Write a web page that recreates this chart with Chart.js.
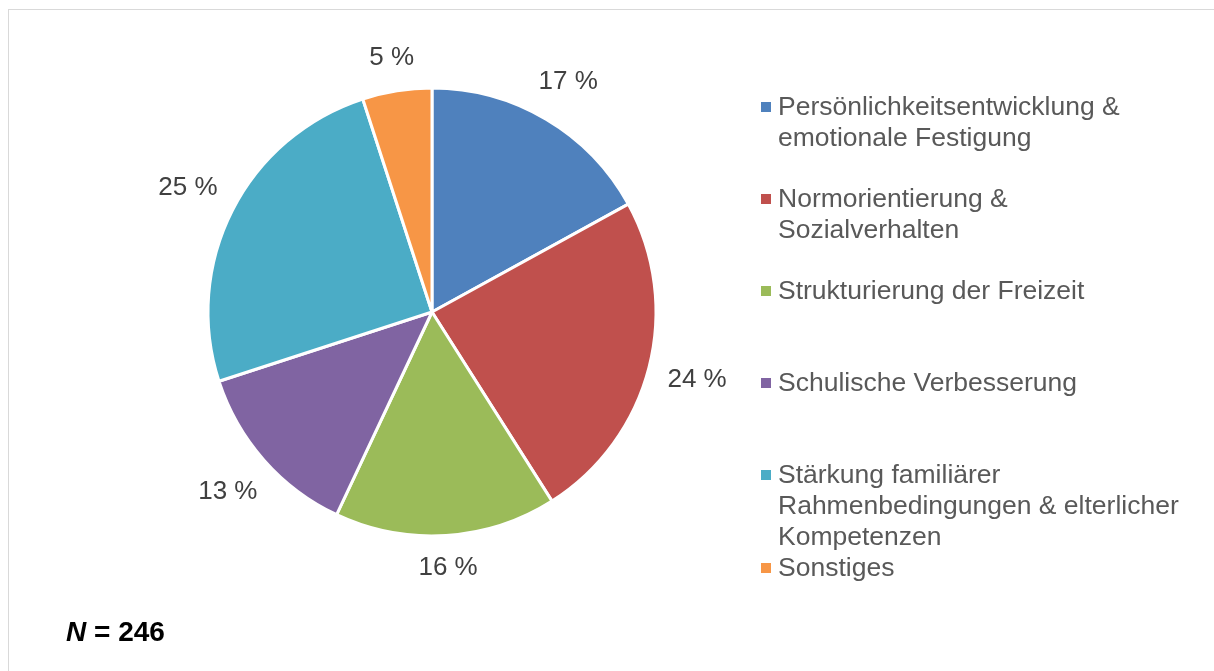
<!DOCTYPE html>
<html>
<head>
<meta charset="utf-8">
<script src="https://cdn.jsdelivr.net/npm/chart.js@4.4.1/dist/chart.umd.min.js"></script>
<style>
  html, body { margin: 0; padding: 0; background: #fff; overflow: hidden; }
  #frame { position: absolute; left: 8px; top: 9px; width: 1300px; height: 800px; border: 1px solid #d9d9d9; }
  #wrap { position: absolute; left: 0; top: 0; width: 1214px; height: 671px; }
</style>
</head>
<body>
<div id="frame"></div>
<div id="wrap"><canvas id="myChart" width="1214" height="671"></canvas></div>
<script>
// categories (split into lines like the legend of the original)
let categories = [
  ["Persönlichkeitsentwicklung &", "emotionale Festigung"],
  ["Normorientierung &", "Sozialverhalten"],
  ["Strukturierung der Freizeit"],
  ["Schulische Verbesserung"],
  ["Stärkung familiärer", "Rahmenbedingungen & elterlicher", "Kompetenzen"],
  ["Sonstiges"]
];
let shares = [17, 24, 16, 13, 25, 5];
let colors = ["#4F81BD", "#C0504D", "#9BBB59", "#8064A2", "#4BACC6", "#F79646"];
let sampleNote = ["N", " = 246"];

let FONT = "'Liberation Sans', Arial, sans-serif";

// percentage labels outside each slice
let outsideLabels = {
  id: "outsideLabels",
  afterDatasetsDraw(chart) {
    let ctx = chart.ctx;
    let meta = chart.getDatasetMeta(0);
    ctx.save();
    ctx.font = "26px " + FONT;
    ctx.fillStyle = "#404040";
    ctx.textAlign = "center";
    ctx.textBaseline = "middle";
    meta.data.forEach(function(el, i) {
      let p = el.getProps(["x", "y", "startAngle", "endAngle", "outerRadius"], true);
      let mid = (p.startAngle + p.endAngle) / 2;
      let txt = shares[i] + " %";
      let w = ctx.measureText(txt).width;
      let c = Math.cos(mid), s = Math.sin(mid);
      let d = p.outerRadius + 18 + Math.abs(c) * w / 2 + Math.abs(s) * 12;
      ctx.fillText(txt, p.x + c * d, p.y + s * d);
    });
    ctx.restore();
  }
};

// legend on the right, Excel style
let sideLegend = {
  id: "sideLegend",
  afterDraw(chart) {
    let ctx = chart.ctx;
    let x = 761, top = 107, lineH = 31, step = 92;
    ctx.save();
    ctx.font = "26.5px " + FONT;
    ctx.textBaseline = "middle";
    let y = top;
    chart.data.labels.forEach(function(lines, i) {
      ctx.fillStyle = chart.data.datasets[0].backgroundColor[i];
      ctx.fillRect(x, y - 5, 10, 10);
      ctx.fillStyle = "#595959";
      lines.forEach(function(line, j) {
        ctx.fillText(line, x + 17, y + 1 + j * lineH);
      });
      y += Math.max(step, lines.length * lineH);
    });

    // sample size note
    ctx.fillStyle = "#000";
    ctx.font = "italic bold 28px " + FONT;
    ctx.fillText(sampleNote[0], 66, 633);
    let nw = ctx.measureText(sampleNote[0]).width;
    ctx.font = "bold 28px " + FONT;
    ctx.fillText(sampleNote[1], 66 + nw, 633);
    ctx.restore();
  }
};

let ctx = document.getElementById('myChart').getContext('2d');

let chart = new Chart(ctx, {
  type: 'pie',
  data: {
    labels: categories,
    datasets: [{
      data: shares,
      backgroundColor: colors,
      borderColor: "#ffffff",
      borderWidth: 3,
      hoverOffset: 0
    }]
  },
  options: {
    responsive: false,
    animation: false,
    radius: 224,
    layout: { padding: { left: 200, right: 550, top: 80, bottom: 127 } },
    plugins: {
      legend: { display: false },
      tooltip: { enabled: false }
    }
  },
  plugins: [outsideLabels, sideLegend]
});
</script>
</body>
</html>
